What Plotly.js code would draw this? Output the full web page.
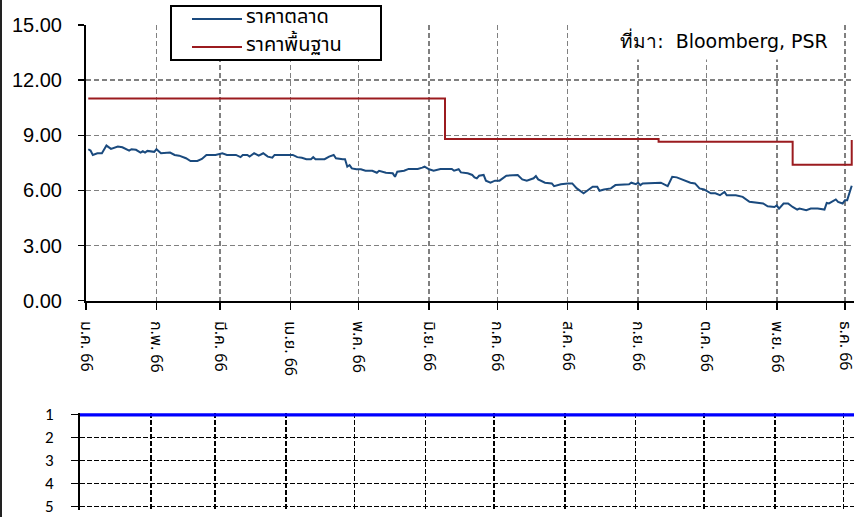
<!DOCTYPE html>
<html>
<head>
<meta charset="utf-8">
<script src="https://cdn.plot.ly/plotly-3.0.1.min.js"></script>
<style>
  html, body { margin: 0; padding: 0; background: #ffffff; }
  #chart { width: 856px; height: 517px; }
</style>
</head>
<body>
<div id="chart"></div>
<script>
// ---- Data ----
const marketDates = [
  '2023-01-02','2023-01-03','2023-01-04','2023-01-06','2023-01-08','2023-01-10','2023-01-12','2023-01-15','2023-01-17','2023-01-20',
  '2023-01-21','2023-01-23','2023-01-25','2023-01-26','2023-01-27','2023-01-28','2023-01-31','2023-02-01','2023-02-03','2023-02-07',
  '2023-02-09','2023-02-11','2023-02-14','2023-02-16','2023-02-19','2023-02-21','2023-02-23','2023-02-27','2023-03-02','2023-03-04',
  '2023-03-08','2023-03-10','2023-03-11','2023-03-13','2023-03-14','2023-03-16','2023-03-18','2023-03-20','2023-03-22','2023-03-24',
  '2023-03-25','2023-04-02','2023-04-04','2023-04-06','2023-04-08','2023-04-10','2023-04-11','2023-04-12','2023-04-16','2023-04-18',
  '2023-04-20','2023-04-21','2023-04-24','2023-04-25','2023-04-26','2023-04-27','2023-04-28','2023-04-30','2023-05-02','2023-05-04',
  '2023-05-07','2023-05-09','2023-05-10','2023-05-12','2023-05-13','2023-05-16','2023-05-17','2023-05-18','2023-05-21','2023-05-23',
  '2023-05-27','2023-05-29','2023-05-30','2023-06-01','2023-06-03','2023-06-06','2023-06-11','2023-06-12','2023-06-14','2023-06-15',
  '2023-06-18','2023-06-20','2023-06-21','2023-06-22','2023-06-23','2023-06-25','2023-06-26','2023-06-28','2023-06-30','2023-07-02',
  '2023-07-05','2023-07-10','2023-07-12','2023-07-14','2023-07-17','2023-07-18','2023-07-19','2023-07-22','2023-07-25','2023-07-26',
  '2023-07-29','2023-08-01','2023-08-03','2023-08-05','2023-08-08','2023-08-10','2023-08-12','2023-08-14','2023-08-15','2023-08-17',
  '2023-08-20','2023-08-22','2023-08-28','2023-08-29','2023-08-31','2023-09-01','2023-09-02','2023-09-03','2023-09-08','2023-09-11',
  '2023-09-14','2023-09-16','2023-09-18','2023-09-21','2023-09-24','2023-09-26','2023-09-28','2023-09-30','2023-10-03','2023-10-05',
  '2023-10-07','2023-10-09','2023-10-10','2023-10-14','2023-10-17','2023-10-20','2023-10-23','2023-10-26','2023-10-28','2023-10-31',
  '2023-11-01','2023-11-02','2023-11-04','2023-11-06','2023-11-08','2023-11-10','2023-11-11','2023-11-14','2023-11-16','2023-11-19',
  '2023-11-22','2023-11-23','2023-11-24','2023-11-27','2023-11-28','2023-11-30','2023-12-01','2023-12-02','2023-12-04'
];
const marketPrice = [
  8.24,8.17,7.93,8.02,8.02,8.44,8.26,8.39,8.35,8.17,
  8.24,8.21,8.06,8.13,8.06,8.15,8.10,8.24,8.02,8.06,
  7.93,7.89,7.75,7.60,7.60,7.71,7.93,7.93,8.02,7.93,
  7.93,7.81,7.93,7.93,7.84,8.02,7.89,8.02,7.84,7.78,
  7.93,7.93,7.81,7.78,7.70,7.70,7.81,7.70,7.70,7.84,
  7.93,7.75,7.70,7.70,7.29,7.38,7.20,7.15,7.15,7.07,
  7.07,6.96,7.07,7.02,6.96,6.93,6.74,7.02,7.07,7.17,
  7.17,7.24,7.29,7.15,7.07,7.17,7.17,7.07,7.15,6.98,
  6.93,6.84,6.71,6.66,6.80,6.84,6.53,6.42,6.53,6.53,
  6.80,6.84,6.60,6.53,6.66,6.78,6.60,6.42,6.38,6.23,
  6.34,6.38,6.38,6.11,5.84,6.02,6.20,6.20,5.98,6.05,
  6.11,6.29,6.33,6.42,6.34,6.42,6.29,6.38,6.38,6.42,
  6.23,6.74,6.71,6.56,6.42,6.38,6.11,6.05,5.84,5.84,
  5.74,5.92,5.74,5.74,5.65,5.38,5.32,5.29,5.14,5.10,
  5.19,5.01,5.29,5.29,5.10,4.96,5.01,4.92,5.01,5.01,
  4.96,5.32,5.29,5.51,5.38,5.29,5.47,5.47,6.25
];
const fairDates = ['2023-01-02','2023-06-08','2023-09-10','2023-11-08','2023-12-04'];
const fairPrice = [11.0, 8.8, 8.65, 7.4, 8.75];

const signalDates = ['2023-01-01','2023-12-06'];
const signalLevel = [1, 1];

const tickDates = ['2023-01-01','2023-02-01','2023-03-01','2023-04-01','2023-05-01','2023-06-01',
                   '2023-07-01','2023-08-01','2023-09-01','2023-10-01','2023-11-01','2023-12-01'];
const tickLabels = ['ม.ค. 66','ก.พ. 66','มี.ค. 66','เม.ย. 66','พ.ค. 66','มิ.ย. 66',
                    'ก.ค. 66','ส.ค. 66','ก.ย. 66','ต.ค. 66','พ.ย. 66','ธ.ค. 66'];
const priceTicks = [0, 3, 6, 9, 12, 15];
const signalTicks = [1, 2, 3, 4, 5];
const seriesNames = ['ราคาตลาด', 'ราคาพื้นฐาน'];
const seriesColors = ['#1a4a7e', '#9b1b1f'];
const sourceText = 'ที่มา:  Bloomberg, PSR';

// ---- Layout helpers (pixels -> paper) ----
const W = 856, H = 517;
const px = v => v / W;
const py = v => 1 - v / H;

const thaiFont = "Tahoma, 'Noto Sans Thai', 'Liberation Sans', Arial, sans-serif";

const traces = [
  {
    x: marketDates, y: marketPrice, type: 'scatter', mode: 'lines',
    name: seriesNames[0], line: { color: seriesColors[0], width: 2 },
    xaxis: 'x', yaxis: 'y'
  },
  {
    x: fairDates, y: fairPrice, type: 'scatter', mode: 'lines',
    name: seriesNames[1], line: { color: seriesColors[1], width: 2, shape: 'hv' },
    xaxis: 'x', yaxis: 'y'
  },
  {
    x: signalDates, y: signalLevel, type: 'scatter', mode: 'lines',
    showlegend: false, line: { color: '#0000ff', width: 4 },
    xaxis: 'x2', yaxis: 'y2'
  }
];

// Hand-built legend box (matches the reference's boxed legend)
const legendRows = [17, 45];
const legendShapes = [
  { type: 'rect', xref: 'paper', yref: 'paper', x0: px(171), x1: px(381), y0: py(60), y1: py(6),
    line: { color: '#000000', width: 2 }, fillcolor: '#ffffff', layer: 'above' }
].concat(seriesNames.map((n, i) => ({
  type: 'line', xref: 'paper', yref: 'paper', x0: px(192), x1: px(242),
  y0: py(legendRows[i] + 2), y1: py(legendRows[i] + 2),
  line: { color: seriesColors[i], width: 2 }, layer: 'above'
})));
const legendTexts = seriesNames.map((n, i) => ({
  xref: 'paper', yref: 'paper', x: px(244), y: py(legendRows[i]),
  xanchor: 'left', yanchor: 'middle', text: n, showarrow: false,
  font: { family: thaiFont, size: 20, color: '#000000' }
}));

const layout = {
  width: W, height: H,
  margin: { l: 0, r: 0, t: 0, b: 0 },
  paper_bgcolor: '#ffffff', plot_bgcolor: '#ffffff',
  showlegend: false,
  xaxis: {
    type: 'date',
    domain: [px(86), px(854)],
    range: ['2023-01-01', '2023-12-05'],
    tickmode: 'array', tickvals: tickDates, ticktext: tickLabels,
    tickangle: 90, ticklabeloverflow: 'allow',
    tickfont: { family: thaiFont, size: 16, color: '#000000' },
    ticks: 'outside', ticklen: 7, tickwidth: 1.5, tickcolor: '#000000',
    ticklabelstandoff: 8,
    showline: true, linecolor: '#000000', linewidth: 2,
    showgrid: true, gridcolor: '#808080', gridwidth: 1.5, griddash: '5px,3px',
    zeroline: false, anchor: 'y', fixedrange: true
  },
  yaxis: {
    domain: [py(300.7), py(25)],
    range: [0, 15],
    tickmode: 'array', tickvals: priceTicks, tickformat: '.2f',
    tickfont: { family: "'Liberation Sans', Arial, sans-serif", size: 20, color: '#000000' },
    ticks: 'outside', ticklen: 6, tickwidth: 1.5, tickcolor: '#000000',
    ticklabelstandoff: 12,
    showline: true, linecolor: '#000000', linewidth: 2,
    showgrid: true, gridcolor: '#808080', gridwidth: 1.5, griddash: '5px,3px',
    zeroline: false, anchor: 'x', fixedrange: true
  },
  xaxis2: {
    type: 'date',
    domain: [px(80), px(854)],
    range: ['2023-01-01', '2023-12-05 12:00'],
    tickmode: 'array', tickvals: tickDates,
    showticklabels: false, ticks: '',
    showline: false,
    showgrid: true, gridcolor: '#000000', gridwidth: 1.5, griddash: '5px,2px',
    zeroline: false, anchor: 'y2', fixedrange: true
  },
  yaxis2: {
    domain: [py(509.5), py(413.35)],
    range: [5.13, 0.95],
    tickmode: 'array', tickvals: signalTicks, ticklabeloverflow: 'allow',
    tickfont: { family: "Carlito, Lato, 'Open Sans', sans-serif", size: 17, color: '#000000' },
    ticks: 'outside', ticklen: 7, tickwidth: 1.5, tickcolor: '#000000',
    ticklabelstandoff: 14,
    showline: true, linecolor: '#000000', linewidth: 2,
    showgrid: true, gridcolor: '#000000', gridwidth: 1.5, griddash: '5px,2px',
    zeroline: false, anchor: 'x2', fixedrange: true
  },
  annotations: [
    {
      xref: 'paper', yref: 'paper', x: px(607), y: py(20),
      xanchor: 'left', yanchor: 'top',
      width: 230, height: 36, align: 'center', valign: 'middle',
      text: sourceText, showarrow: false, bgcolor: '#ffffff',
      font: { family: "'DejaVu Sans', sans-serif", size: 19, color: '#000000' }
    }
  ].concat(legendTexts),
  shapes: [
    { type: 'line', xref: 'paper', yref: 'paper', x0: px(1), x1: px(1), y0: 0, y1: 1,
      line: { color: '#222222', width: 2 } }
  ].concat(legendShapes)
};

Plotly.newPlot('chart', traces, layout, { displayModeBar: false, staticPlot: true });
</script>
</body>
</html>
